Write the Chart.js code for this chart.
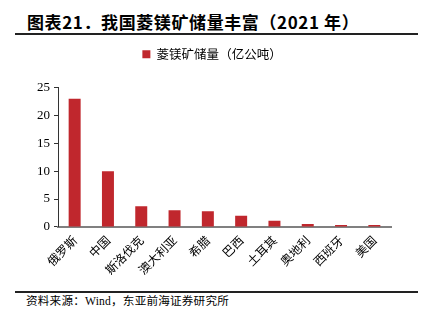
<!DOCTYPE html>
<html>
<head>
<meta charset="utf-8">
<script src="https://cdn.jsdelivr.net/npm/chart.js@4/dist/chart.umd.min.js"></script>
<style>
  html, body { margin: 0; padding: 0; background: #fff; }
  body { width: 429px; height: 328px; position: relative; overflow: hidden; }
  #title { position: absolute; left: 27px; top: 9px; font-family: "Noto Sans CJK SC", sans-serif; font-weight: bold; font-size: 17px; letter-spacing: 0.6px; color: #000; white-space: nowrap; }
  .rule { position: absolute; left: 15px; width: 403px; height: 2px; background: #222; }
  #source { position: absolute; left: 26px; top: 292px; font-family: "Liberation Serif", "Noto Sans CJK SC", serif; font-size: 11.6px; letter-spacing: 0.2px; color: #000; white-space: nowrap; }
  #wrap { position: absolute; left: 0; top: 38px; width: 429px; height: 250px; }
</style>
</head>
<body>
<div id="title">图表21．我国菱镁矿储量丰富（2021 年）</div>
<div class="rule" style="top:33px"></div>
<div id="wrap"><canvas id="c"></canvas></div>
<div class="rule" style="top:291px"></div>
<div id="source">资料来源：Wind，东亚前海证券研究所</div>
<script>
// 各国菱镁矿储量（亿公吨）
const countries = ["俄罗斯", "中国", "斯洛伐克", "澳大利亚", "希腊", "巴西", "土耳其", "奥地利", "西班牙", "美国"];
const reserves = [23, 10, 3.7, 3.0, 2.8, 2.0, 1.1, 0.5, 0.35, 0.35];
const seriesName = "菱镁矿储量（亿公吨）";
const yTicks = [0, 5, 10, 15, 20, 25];

new Chart(document.getElementById("c"), {
  type: "bar",
  data: {
    labels: countries,
    datasets: [{
      label: seriesName,
      data: reserves,
      backgroundColor: "#C0272D",
      categoryPercentage: 1.0,
      barPercentage: 0.36
    }]
  },
  options: {
    responsive: true,
    maintainAspectRatio: false,
    animation: false,
    layout: { padding: { left: 33, right: 38, top: 0, bottom: 5 } },
    plugins: {
      legend: {
        display: true,
        position: "top",
        labels: {
          boxWidth: 8, boxHeight: 8, padding: 10,
          color: "#000",
          font: { family: "'Noto Sans CJK SC', sans-serif", size: 12.5 }
        }
      },
      tooltip: { enabled: false }
    },
    scales: {
      x: {
        grid: { display: false, drawTicks: false },
        border: { color: "#808080", width: 2 },
        ticks: {
          color: "#000",
          maxRotation: 45, minRotation: 45,
          padding: 6,
          font: { family: "'Noto Sans CJK SC', sans-serif", size: 12 }
        }
      },
      y: {
        min: 0, max: 25,
        afterBuildTicks: (axis) => { axis.ticks = yTicks.map(v => ({ value: v })); },
        grid: { drawOnChartArea: false, drawTicks: true, tickLength: 4, color: "#333" },
        border: { color: "#333", width: 1 },
        ticks: {
          color: "#000",
          padding: 4,
          font: { family: "'Liberation Serif', serif", size: 13 }
        }
      }
    }
  },
  plugins: [{
    id: "legendGap",
    beforeInit(chart) {
      const fit = chart.legend.fit;
      chart.legend.fit = function () { fit.call(this); this.height += 17; };
    }
  }]
});
</script>
</body>
</html>
